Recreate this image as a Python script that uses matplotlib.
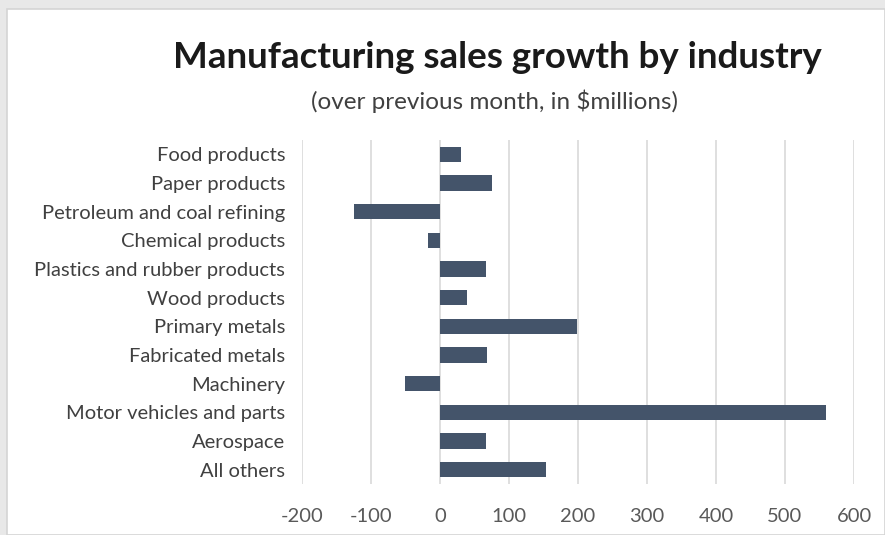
import matplotlib
matplotlib.use("Agg")
import matplotlib.pyplot as plt
from matplotlib.patches import Rectangle

categories = ["Food products", "Paper products", "Petroleum and coal refining",
              "Chemical products", "Plastics and rubber products", "Wood products",
              "Primary metals", "Fabricated metals", "Machinery",
              "Motor vehicles and parts", "Aerospace", "All others"]
values = [31, 76, -125, -17, 67, 39, 198, 68, -51, 559, 66, 153]
xticks = [-200, -100, 0, 100, 200, 300, 400, 500, 600]

plt.rcParams['font.family'] = ['Lato', 'DejaVu Sans']

W, H = 885, 535
fig = plt.figure(figsize=(W/100, H/100), dpi=100, facecolor="#e8e8e8")
# white chart panel
fig.patches.append(Rectangle((7/W, 0), 1 - 7/W, 1 - 9/H, transform=fig.transFigure,
                             facecolor="white", edgecolor="#d4d4d4", linewidth=1.2, zorder=-5))

left, right = 302/W, 854/W
top, bottom = 1 - 140/H, 1 - 484/H
ax = fig.add_axes([left, bottom, right - left, top - bottom])
ax.set_zorder(2)
ax.set_facecolor("none")

y = list(range(len(categories)))
ax.barh(y, values, height=0.53, color="#44546a", zorder=3)
ax.set_ylim(len(categories) - 0.5, -0.5)
ax.set_yticks(y)
ax.set_yticklabels(categories, fontsize=14.5, color="#404040")
ax.set_xlim(-200, 600)
ax.set_xticks(xticks)
ax.set_xticklabels([str(t) for t in xticks], fontsize=14.5, color="#595959")
ax.tick_params(axis="both", length=0)
ax.tick_params(axis="y", pad=12)
ax.tick_params(axis="x", pad=17)
ax.grid(axis="x", color="#d9d9d9", linewidth=1.2, zorder=0)
for s in ax.spines.values():
    s.set_visible(False)

fig.text(497/W, 1 - 58/H, "Manufacturing sales growth by industry", ha="center", va="center",
         fontsize=26.5, fontweight="bold", color="#1a1a1a", zorder=5)
fig.text(495/W, 1 - 101/H, "(over previous month, in $millions)", ha="center", va="center",
         fontsize=17.5, color="#404040", zorder=5)

fig.savefig("out.png", dpi=100, facecolor=fig.get_facecolor())
